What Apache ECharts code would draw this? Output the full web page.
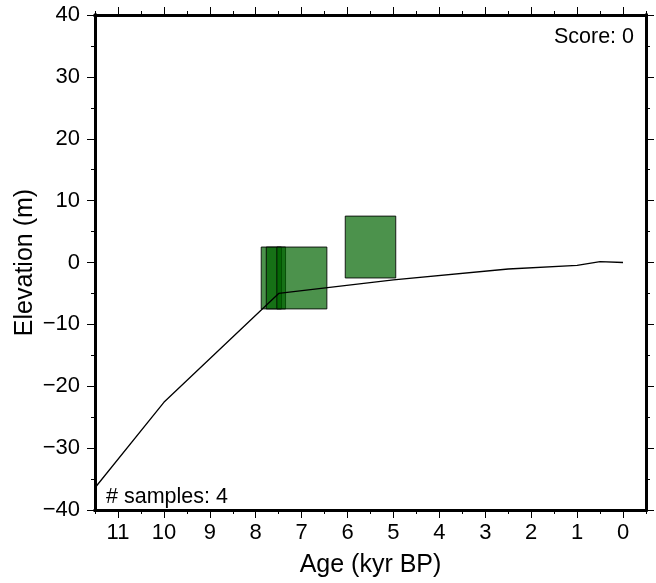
<!DOCTYPE html>
<html>
<head>
<meta charset="utf-8">
<script src="https://cdn.jsdelivr.net/npm/echarts@6/dist/echarts.min.js"></script>
<style>
html,body{margin:0;padding:0;background:#fff;}
#c{width:656px;height:583px;}
</style>
</head>
<body>
<div id="c"></div>
<script>
// ---- data ----
const xMajorTicks = [11, 10, 9, 8, 7, 6, 5, 4, 3, 2, 1, 0];
const xMinorTicks = [11.5, 10.5, 9.5, 8.5, 7.5, 6.5, 5.5, 4.5, 3.5, 2.5, 1.5, 0.5, -0.5];
const yTicks = [-40, -30, -20, -10, 0, 10, 20, 30, 40];

const lineAges = [11.5, 10, 7.5, 5, 2.5, 1, 0.5, 0];
const lineElev = [-36.4, -22.6, -5, -2.8, -1.05, -0.45, 0.15, 0];

const boxAgeMin  = [7.35, 7.44, 6.45, 4.95];
const boxAgeMax  = [7.88, 7.77, 7.54, 6.05];
const boxElevMin = [-7.5, -7.5, -7.5, -2.5];
const boxElevMax = [2.5, 2.5, 2.5, 7.5];

const scoreText = 'Score: 0';
const samplesText = '# samples: 4';

// ---- build ----
const FONT = 'Liberation Sans';
const lineData = lineAges.map((a, i) => [a, lineElev[i]]);
const boxData = boxAgeMin.map((a, i) => [a, boxAgeMax[i], boxElevMin[i], boxElevMax[i]]);

const frameLine = { show: true, onZero: false, lineStyle: { color: '#000', width: 3, cap: 'square' } };
const fmtNum = v => (v < 0 ? '\u2212' + Math.abs(v) : String(v));

function xAxisDef(pos, major, showLabel, name) {
  return {
    type: 'value', position: pos, inverse: true, min: -0.5, max: 11.5,
    name: name || '', nameLocation: 'middle', nameGap: 43, nameMoveOverlap: false,
    nameTextStyle: { fontFamily: FONT, fontSize: 25, color: '#000' },
    axisLine: major ? frameLine : { show: false, onZero: false },
    axisTick: { show: true, inside: false, length: major ? 8 : 4,
      customValues: major ? xMajorTicks : xMinorTicks,
      lineStyle: { color: '#000', width: 1 } },
    axisLabel: showLabel ? { show: true, customValues: xMajorTicks, margin: 12,
      fontFamily: FONT, fontSize: 22, color: '#000', formatter: fmtNum } : { show: false },
    splitLine: { show: false }
  };
}
function yAxisDef(pos, showLabel, name) {
  return {
    type: 'value', position: pos, min: -40, max: 40, interval: 10,
    name: name || '', nameLocation: 'middle', nameGap: 57, nameMoveOverlap: false,
    nameTextStyle: { fontFamily: FONT, fontSize: 25, color: '#000' },
    axisLine: frameLine,
    axisTick: { show: true, inside: false, length: 8, lineStyle: { color: '#000', width: 1 } },
    minorTick: { show: true, splitNumber: 2, length: 4, lineStyle: { color: '#000', width: 1 } },
    axisLabel: showLabel ? { show: true, margin: 15, fontFamily: FONT, fontSize: 22,
      color: '#000', formatter: fmtNum } : { show: false },
    splitLine: { show: false }, minorSplitLine: { show: false }
  };
}

const chart = echarts.init(document.getElementById('c'), null, { renderer: 'canvas' });
chart.setOption({
  animation: false,
  backgroundColor: '#fff',
  grid: { left: 95, right: 10, top: 15, bottom: 71 },
  xAxis: [
    xAxisDef('bottom', true, true, 'Age (kyr BP)'),
    xAxisDef('top', true, false),
    xAxisDef('bottom', false, false),
    xAxisDef('top', false, false)
  ],
  yAxis: [
    yAxisDef('left', true, 'Elevation (m)'),
    yAxisDef('right', false)
  ],
  series: [
    {
      type: 'custom', xAxisIndex: 0, yAxisIndex: 0, z: 2,
      data: boxData,
      encode: { x: [0, 1], y: [2, 3] },
      clip: true,
      renderItem: function (params, api) {
        const p1 = api.coord([api.value(0), api.value(3)]);
        const p2 = api.coord([api.value(1), api.value(2)]);
        return {
          type: 'rect',
          shape: { x: Math.min(p1[0], p2[0]), y: Math.min(p1[1], p2[1]),
                   width: Math.abs(p2[0] - p1[0]), height: Math.abs(p2[1] - p1[1]) },
          style: { fill: 'rgba(0,100,0,0.7)', stroke: 'rgba(0,0,0,0.85)', lineWidth: 1 }
        };
      }
    },
    {
      type: 'line', xAxisIndex: 0, yAxisIndex: 0, z: 3,
      data: lineData, showSymbol: false, symbol: 'none', clip: true,
      lineStyle: { color: '#000', width: 1.3 }
    }
  ],
  graphic: [
    { type: 'text', x: 634, y: 37, style: { text: scoreText, fontFamily: FONT, fontSize: 21.5,
      fill: '#000', textAlign: 'right', textVerticalAlign: 'middle' } },
    { type: 'text', x: 106, y: 497, style: { text: samplesText, fontFamily: FONT, fontSize: 21.5,
      fill: '#000', textAlign: 'left', textVerticalAlign: 'middle' } }
  ]
});
</script>
</body>
</html>
